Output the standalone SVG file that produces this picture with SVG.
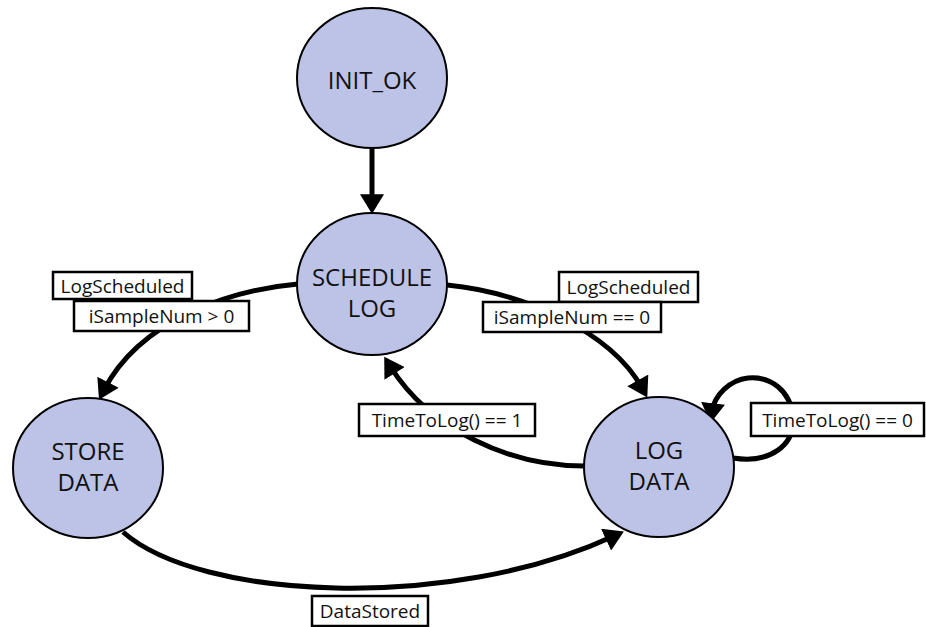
<svg xmlns="http://www.w3.org/2000/svg" width="926" height="627" viewBox="0 0 926 627">
  <style>
    .state ellipse { fill: #bcc3e6; stroke: #000; stroke-width: 2; }
    .state text { font-family: "Open Sans", "Liberation Sans", sans-serif; font-size: 24px; fill: #111; text-anchor: middle; }
    .edge { fill: none; stroke: #000; stroke-width: 5; marker-end: url(#head); }
    .label rect { fill: #fff; stroke: #000; stroke-width: 2.5; }
    .label text { font-family: "Open Sans", "Liberation Sans", sans-serif; font-size: 19px; fill: #111; text-anchor: middle; }
  </style>
  <defs>
    <marker id="head" markerUnits="userSpaceOnUse" markerWidth="20" markerHeight="24" viewBox="0 0 18 22" refX="8" refY="11" orient="auto">
      <path d="M0,0 L18,11 L0,22 z" fill="#000"/>
    </marker>
  </defs>
  <rect width="926" height="627" fill="#fff"/>

  <!-- transitions -->
  <g id="connectors">
    <path class="edge" d="M372 148 L372 203"/>
    <path class="edge" d="M298 284 C230 290 140 320 104 390"/>
    <path class="edge" d="M447 285 C520 292 610 330 642 388"/>
    <path class="edge" d="M584 466 C510 466 430 430 390 366"/>
    <path class="edge" d="M733 458 C770 464 795 445 793 418 C791 390 770 376 748 378 C730 380 714 395 712 412"/>
    <path class="edge" d="M123 532 C200 600 450 612 614 536"/>
  </g>

  <!-- states -->
  <g id="init_ok" class="state">
    <ellipse cx="372" cy="78" rx="75" ry="70"/>
    <text x="372" y="89">INIT_OK</text>
  </g>
  <g id="schedule_log" class="state">
    <ellipse cx="372" cy="284" rx="75" ry="71"/>
    <text x="372" y="286">SCHEDULE</text>
    <text x="372" y="317">LOG</text>
  </g>
  <g id="store_data" class="state">
    <ellipse cx="88" cy="468" rx="75" ry="70"/>
    <text x="88" y="460">STORE</text>
    <text x="88" y="491">DATA</text>
  </g>
  <g id="log_data" class="state">
    <ellipse cx="659" cy="467" rx="75" ry="70"/>
    <text x="659" y="459">LOG</text>
    <text x="659" y="490">DATA</text>
  </g>

  <!-- transition guards -->
  <g id="labels">
    <g class="label">
      <rect x="53" y="272" width="139" height="27"/>
      <text x="122.5" y="293">LogScheduled</text>
    </g>
    <g class="label">
      <rect x="74" y="301" width="175" height="30"/>
      <text x="161.5" y="323">iSampleNum &gt; 0</text>
    </g>
    <g class="label">
      <rect x="559" y="272" width="139" height="30"/>
      <text x="628.5" y="294">LogScheduled</text>
    </g>
    <g class="label">
      <rect x="483" y="302" width="178" height="30"/>
      <text x="572" y="324">iSampleNum == 0</text>
    </g>
    <g class="label">
      <rect x="359" y="404" width="176" height="32"/>
      <text x="447" y="427">TimeToLog() == 1</text>
    </g>
    <g class="label">
      <rect x="751" y="403" width="173" height="33"/>
      <text x="837.5" y="427">TimeToLog() == 0</text>
    </g>
    <g class="label">
      <rect x="312" y="596" width="116" height="30"/>
      <text x="370" y="618">DataStored</text>
    </g>
  </g>
</svg>
